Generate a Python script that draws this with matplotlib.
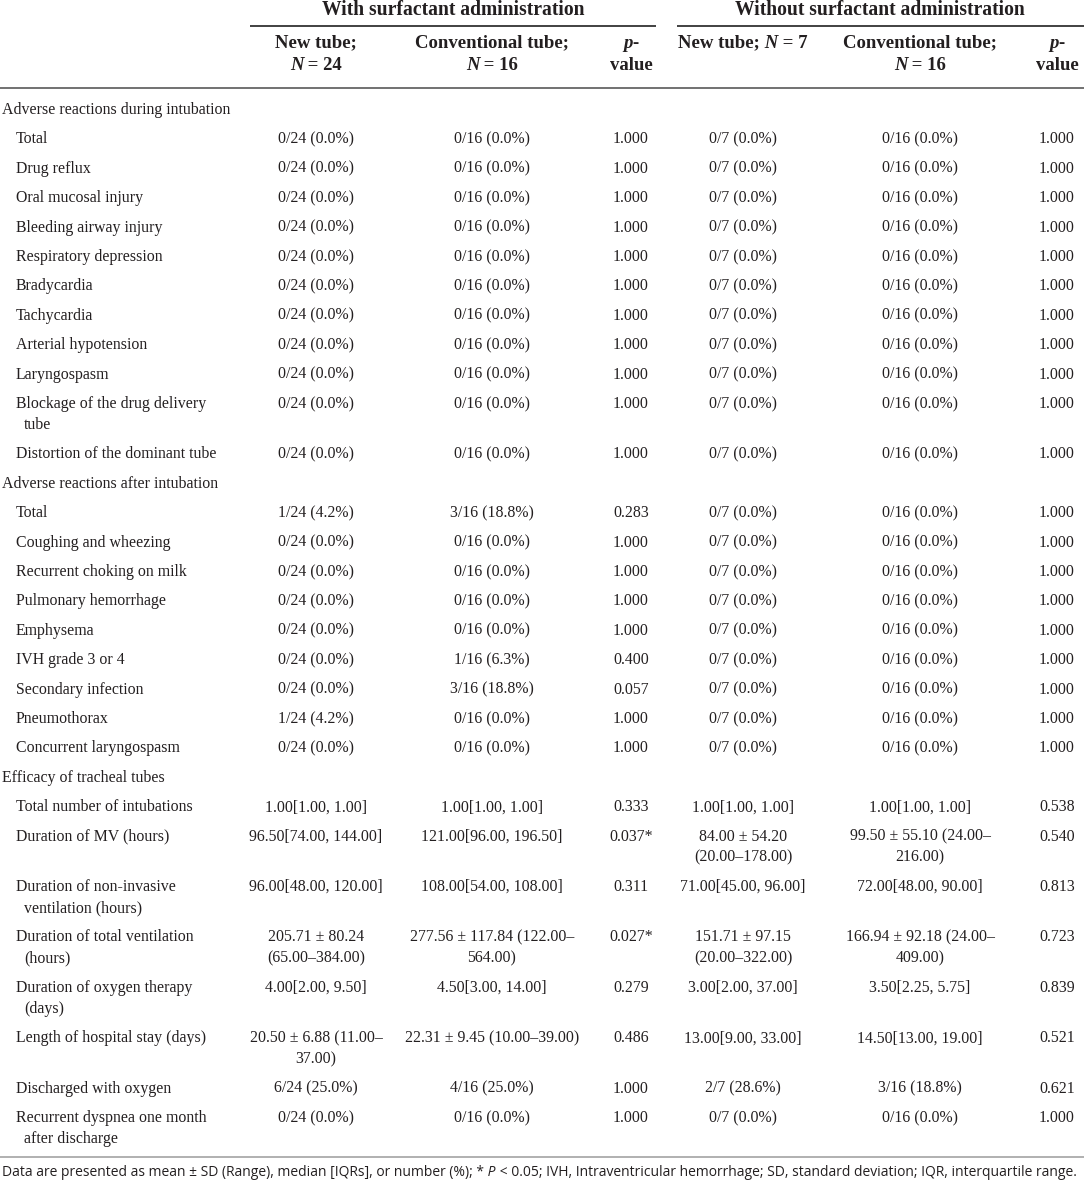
import matplotlib
matplotlib.use("Agg")
import matplotlib.pyplot as plt

# ---- table content ----
groups = ["With surfactant administration", "Without surfactant administration"]
col_heads = [
    [("New tube;", "b")], [("N", "bi"), (" = 24", "b")],
    [("Conventional tube;", "b")], [("N", "bi"), (" = 16", "b")],
    [("p", "bi"), ("-", "b")], [("value", "b")],
    [("New tube;", "b"), (" N", "bi"), (" = 7", "b")], None,
    [("Conventional tube;", "b")], [("N", "bi"), (" = 16", "b")],
    [("p", "bi"), ("-", "b")], [("value", "b")],
]

Z24, Z16, Z7 = "0/24 (0.0%)", "0/16 (0.0%)", "0/7 (0.0%)"
ZERO = [Z24, Z16, "1.000", Z7, Z16, "1.000"]

sec1 = "Adverse reactions during intubation"
sec1_labels = ["Total", "Drug reflux", "Oral mucosal injury", "Bleeding airway injury",
               "Respiratory depression", "Bradycardia", "Tachycardia",
               "Arterial hypotension", "Laryngospasm",
               "Blockage of the drug delivery\ntube", "Distortion of the dominant tube"]
sec1_values = [ZERO] * len(sec1_labels)

sec2 = "Adverse reactions after intubation"
sec2_labels = ["Total", "Coughing and wheezing", "Recurrent choking on milk",
               "Pulmonary hemorrhage", "Emphysema", "IVH grade 3 or 4",
               "Secondary infection", "Pneumothorax", "Concurrent laryngospasm"]
sec2_values = [
    ["1/24 (4.2%)", "3/16 (18.8%)", "0.283", Z7, Z16, "1.000"],
    ZERO, ZERO, ZERO, ZERO,
    [Z24, "1/16 (6.3%)", "0.400", Z7, Z16, "1.000"],
    [Z24, "3/16 (18.8%)", "0.057", Z7, Z16, "1.000"],
    ["1/24 (4.2%)", Z16, "1.000", Z7, Z16, "1.000"],
    ZERO,
]

sec3 = "Efficacy of tracheal tubes"
sec3_labels = ["Total number of intubations", "Duration of MV (hours)",
               "Duration of non-invasive\nventilation (hours)",
               "Duration of total ventilation\n(hours)",
               "Duration of oxygen therapy\n(days)",
               "Length of hospital stay (days)", "Discharged with oxygen",
               "Recurrent dyspnea one month\nafter discharge"]
sec3_values = [
    ["1.00[1.00, 1.00]", "1.00[1.00, 1.00]", "0.333", "1.00[1.00, 1.00]", "1.00[1.00, 1.00]", "0.538"],
    ["96.50[74.00, 144.00]", "121.00[96.00, 196.50]", "0.037*",
     "84.00 ± 54.20\n(20.00–178.00)", "99.50 ± 55.10 (24.00–\n216.00)", "0.540"],
    ["96.00[48.00, 120.00]", "108.00[54.00, 108.00]", "0.311",
     "71.00[45.00, 96.00]", "72.00[48.00, 90.00]", "0.813"],
    ["205.71 ± 80.24\n(65.00–384.00)", "277.56 ± 117.84 (122.00–\n564.00)", "0.027*",
     "151.71 ± 97.15\n(20.00–322.00)", "166.94 ± 92.18 (24.00–\n409.00)", "0.723"],
    ["4.00[2.00, 9.50]", "4.50[3.00, 14.00]", "0.279",
     "3.00[2.00, 37.00]", "3.50[2.25, 5.75]", "0.839"],
    ["20.50 ± 6.88 (11.00–\n37.00)", "22.31 ± 9.45 (10.00–39.00)", "0.486",
     "13.00[9.00, 33.00]", "14.50[13.00, 19.00]", "0.521"],
    ["6/24 (25.0%)", "4/16 (25.0%)", "1.000", "2/7 (28.6%)", "3/16 (18.8%)", "0.621"],
    ZERO,
]

footnote = [("Data are presented as mean ± SD (Range), median [IQRs], or number (%); *", "n"),
            (" P", "i"),
            (" < 0.05; IVH, Intraventricular hemorrhage; SD, standard deviation; IQR, interquartile range.", "n")]

# ---- layout (pixels) ----
W, H = 1084, 1184
SERIF = "Liberation Serif"
SANS = "Open Sans"
BODY = 11.4
HEAD = 13.5
col_x = [316, 492, 631, 743, 920, 1057]
ink = "#231f20"

fig = plt.figure(figsize=(W / 100, H / 100), dpi=100)
ax = fig.add_axes([0, 0, 1, 1])
ax.set_xlim(0, W)
ax.set_ylim(H, 0)
ax.axis("off")
renderer = fig.canvas.get_renderer()


def style_kw(s):
    return dict(fontweight="bold" if "b" in s else "normal",
                fontstyle="italic" if "i" in s else "normal")


def measure(parts, size, family):
    widths = []
    for txt, st in parts:
        t = ax.text(0, 0, txt, fontsize=size, family=family, **style_kw(st))
        widths.append(t.get_window_extent(renderer).width)
        t.remove()
    return widths


def runs(x, y, parts, size, family, ha="center"):
    # draw a line made of differently styled pieces
    widths = measure(parts, size, family)
    x0 = x - sum(widths) / 2 if ha == "center" else x
    for (txt, st), w in zip(parts, widths):
        ax.text(x0, y, txt, fontsize=size, family=family, ha="left", va="center",
                color=ink, **style_kw(st))
        x0 += w


# header
runs(453, 10, [(groups[0], "b")], HEAD + 0.6, SERIF)
runs(880, 10, [(groups[1], "b")], HEAD + 0.6, SERIF)
ax.plot([250, 656], [26, 26], color="#333333", lw=1.3, solid_capstyle="butt")
ax.plot([677, 1084], [26, 26], color="#333333", lw=1.3, solid_capstyle="butt")
for i, cx in enumerate(col_x):
    top, bot = col_heads[2 * i], col_heads[2 * i + 1]
    runs(cx, 43, top, HEAD, SERIF)
    if bot:
        runs(cx, 65, bot, HEAD, SERIF)
ax.plot([0, W], [88, 88], color="#666666", lw=1.3)

# body
ROW = 29.4
LINE = 21
y = 110
for sec, labels, values in [(sec1, sec1_labels, sec1_values),
                            (sec2, sec2_labels, sec2_values),
                            (sec3, sec3_labels, sec3_values)]:
    ax.text(2, y, sec, fontsize=BODY, family=SERIF, va="center", color=ink)
    y += ROW
    for lab, vals in zip(labels, values):
        nl = 1
        for k, part in enumerate(lab.split("\n")):
            ax.text(16 if k == 0 else 24, y + k * LINE, part, fontsize=BODY,
                    family=SERIF, va="center", color=ink)
            nl = max(nl, k + 1)
        for cx, v in zip(col_x, vals):
            for k, part in enumerate(v.split("\n")):
                ax.text(cx, y + k * LINE, part, fontsize=BODY, family=SERIF,
                        ha="center", va="center", color=ink)
                nl = max(nl, k + 1)
        y += ROW + LINE * (nl - 1)

ax.plot([0, W], [1157, 1157], color="#aaaaaa", lw=1.3)

# footnote, sized to the table width
fs = 10
fs = fs * 1074 / sum(measure(footnote, fs, SANS))
runs(2, 1173, footnote, fs, SANS, ha="left")

fig.savefig("out.png", dpi=100)
